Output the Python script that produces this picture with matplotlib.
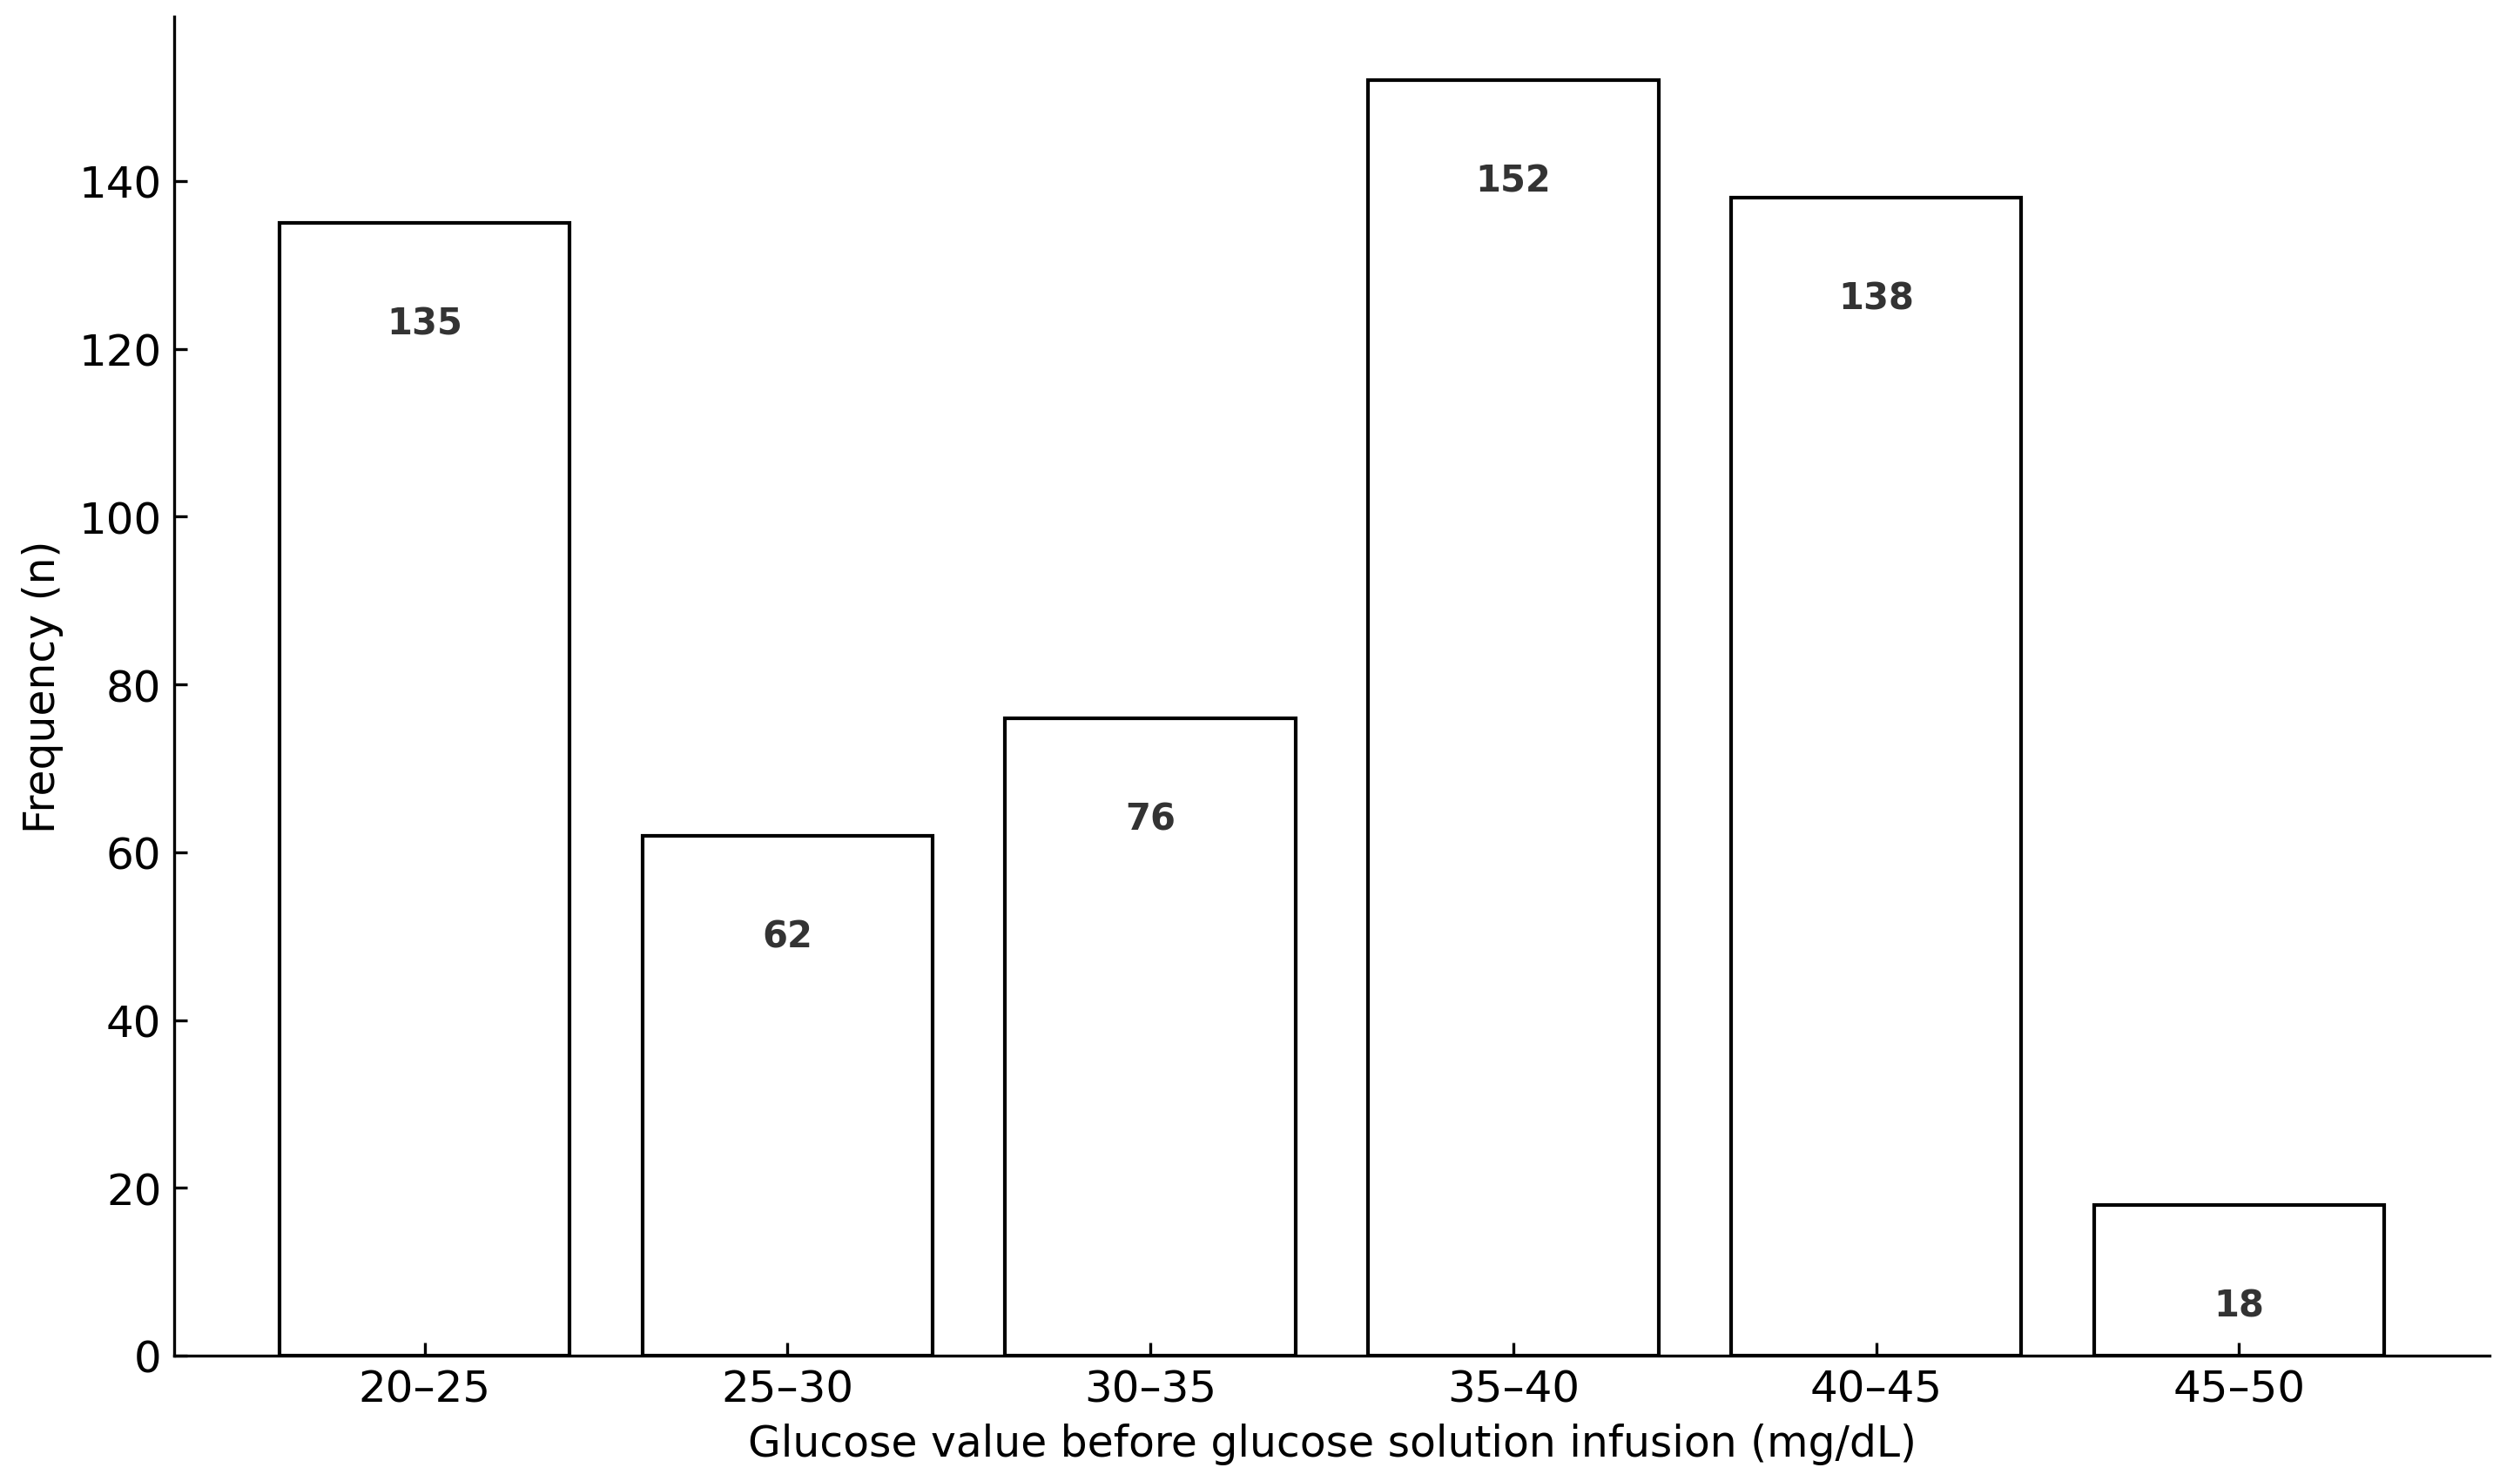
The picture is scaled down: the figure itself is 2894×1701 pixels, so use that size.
import matplotlib
matplotlib.use("Agg")
import matplotlib.pyplot as plt

categories = ["20–25", "25–30", "30–35", "35–40", "40–45", "45–50"]
frequency = [135, 62, 76, 152, 138, 18]

plt.rcParams['font.family'] = ['DejaVu Sans']

fig = plt.figure(figsize=(2894/300, 1702/300), dpi=300)
ax = fig.add_axes([200/2894, 144/1702, (2859-200)/2894, (1682-144)/1702])

x = list(range(len(categories)))
bars = ax.bar(x, frequency, width=0.8, color='white', edgecolor='black', linewidth=1.0)

for xi, v in zip(x, frequency):
    ax.text(xi, v - 12, str(v), ha='center', va='center', fontsize=10,
            fontweight='bold', color='#333333')

ax.set_xticks(x)
ax.set_xticklabels(categories)
ax.tick_params(direction='in', labelsize=12, length=3.5, width=0.8)
ax.spines['top'].set_visible(False)
ax.spines['right'].set_visible(False)
ax.set_xlabel("Glucose value before glucose solution infusion (mg/dL)", fontsize=11.7, labelpad=3.5)
ax.set_ylabel("Frequency (n)", fontsize=11.7)

fig.savefig("out.png", dpi=300)
